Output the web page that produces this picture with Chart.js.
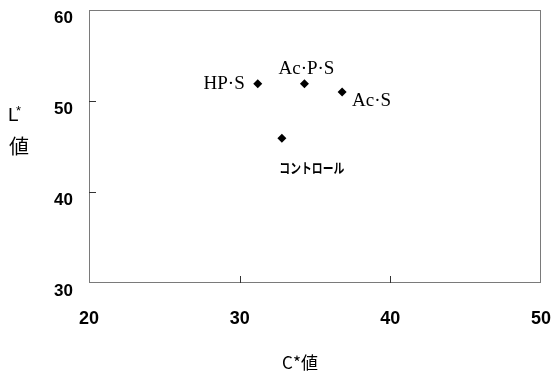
<!DOCTYPE html>
<html>
<head>
<meta charset="utf-8">
<script src="https://cdn.jsdelivr.net/npm/chart.js@4"></script>
<style>
  html, body { margin: 0; padding: 0; background: #fff; }
  #wrap { width: 553px; height: 372px; }
</style>
</head>
<body>
<div id="wrap"><canvas id="scatterChart" width="553" height="372"></canvas></div>
<script>
// サンプル名と値
const sampleNames = ["HP·S", "Ac·P·S", "Ac·S", "コントロール"];
const cValues = [31.2, 34.3, 36.8, 32.8];
const lValues = [51.9, 51.9, 51.0, 45.9];

const xTicks = [20, 30, 40, 50];
const yTicks = [30, 40, 50, 60];

// ラベル位置 (点からのずれ)
const labelPos = [
  { dx: -13, dy: 0, align: "right", font: "19px 'Liberation Serif', 'DejaVu Serif', serif" },
  { dx: 2, dy: -15, align: "center", font: "19px 'Liberation Serif', 'DejaVu Serif', serif" },
  { dx: 10, dy: 9, align: "left", font: "19px 'Liberation Serif', 'DejaVu Serif', serif" },
  { dx: 30, dy: 29, align: "center", font: "bold 14px 'Noto Sans CJK JP', sans-serif", maxW: 65 }
];

const pts = cValues.map((c, i) => ({ x: c, y: lValues[i] }));

const extras = {
  id: "extras",
  afterDatasetsDraw(chart) {
    const ctx = chart.ctx;
    const a = chart.chartArea;
    const xs = chart.scales.x, ys = chart.scales.y;
    ctx.save();
    // 枠
    ctx.strokeStyle = "#7a7a7a";
    ctx.lineWidth = 1;
    ctx.strokeRect(Math.round(a.left) + 0.5, Math.round(a.top) + 0.5,
      Math.round(a.right - a.left) - 1, Math.round(a.bottom - a.top) - 1);
    // 内向き目盛
    ctx.strokeStyle = "#333";
    ctx.beginPath();
    [30, 40].forEach(v => {
      const px = Math.round(xs.getPixelForValue(v)) + 0.5;
      ctx.moveTo(px, a.bottom); ctx.lineTo(px, a.bottom - 7);
    });
    [40, 50].forEach(v => {
      const py = Math.round(ys.getPixelForValue(v)) + 0.5;
      ctx.moveTo(a.left, py); ctx.lineTo(a.left + 7, py);
    });
    ctx.stroke();

    // データラベル
    const meta = chart.getDatasetMeta(0);
    ctx.fillStyle = "#000";
    ctx.textBaseline = "middle";
    meta.data.forEach((el, i) => {
      const p = labelPos[i];
      ctx.font = p.font;
      ctx.textAlign = p.align;
      if (p.maxW) ctx.fillText(sampleNames[i], el.x + p.dx, el.y + p.dy, p.maxW);
      else ctx.fillText(sampleNames[i], el.x + p.dx, el.y + p.dy);
    });

    // 軸タイトル
    ctx.font = "19px 'Liberation Sans', Arial, sans-serif";
    ctx.textAlign = "left";
    ctx.fillText("L", 8, 116);
    ctx.font = "13px 'Liberation Sans', Arial, sans-serif";
    ctx.fillText("*", 16, 111);
    ctx.font = "20px 'Noto Sans CJK JP', sans-serif";
    ctx.textAlign = "center";
    ctx.fillText("値", 19, 146);

    ctx.font = "17px 'Noto Sans CJK JP', sans-serif";
    ctx.fillText("C*値", 300, 363);
    ctx.restore();
  }
};

new Chart(document.getElementById("scatterChart"), {
  type: "scatter",
  data: {
    datasets: [{
      data: pts,
      pointStyle: "rectRot",
      pointRadius: 4.5,
      pointHoverRadius: 4.5,
      backgroundColor: "#000",
      borderColor: "#000",
      borderWidth: 0
    }]
  },
  options: {
    responsive: false,
    animation: false,
    events: [],
    layout: { padding: { top: 10, right: 12, left: 0, bottom: 0 } },
    plugins: { legend: { display: false }, tooltip: { enabled: false } },
    scales: {
      x: {
        type: "linear",
        min: 20, max: 50,
        afterBuildTicks: s => { s.ticks = xTicks.map(v => ({ value: v })); },
        afterFit: s => { s.height = 89; s.paddingLeft = 0; s.paddingRight = 0; },
        grid: { display: true, drawOnChartArea: false, drawTicks: false },
        border: { display: false },
        ticks: {
          padding: 25,
          color: "#000",
          maxRotation: 0,
          font: { family: "'Liberation Sans', Arial, sans-serif", size: 18, weight: "bold" }
        }
      },
      y: {
        type: "linear",
        min: 30, max: 60,
        afterBuildTicks: s => { s.ticks = yTicks.map(v => ({ value: v })); },
        afterFit: s => { s.width = 89; s.paddingTop = 0; s.paddingBottom = 0; },
        grid: { display: true, drawOnChartArea: false, drawTicks: false },
        border: { display: false },
        ticks: {
          padding: 16,
          labelOffset: 8,
          color: "#000",
          font: { family: "'Liberation Sans', Arial, sans-serif", size: 17, weight: "bold" }
        }
      }
    }
  },
  plugins: [extras]
});
</script>
</body>
</html>
